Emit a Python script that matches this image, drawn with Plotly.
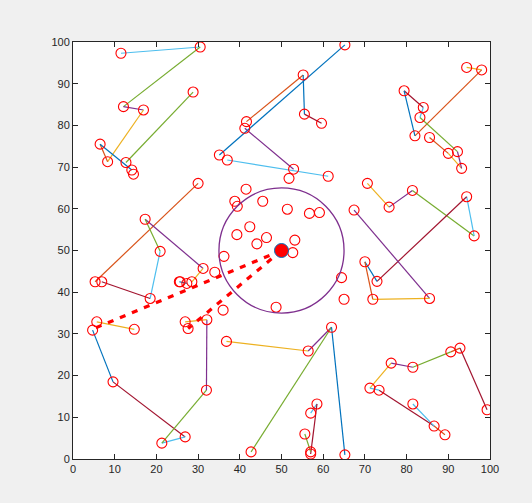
import plotly.graph_objects as go

# Palette (MATLAB default line colour order)
PALETTE = {
    "b": "#0072BD", "o": "#D95319", "y": "#EDB120", "p": "#7E2F8E",
    "g": "#77AC30", "c": "#4DBEEE", "r": "#A2142F",
}

# Route segments: start point, end point, colour key
seg_x0 = [11.5, 30.5, 12.1, 16.9, 6.5, 6.5, 12.7,
          65.2, 55.2, 55.2, 55.5, 41.2, 37.0,
          94.4, 98.0, 79.4, 79.4, 84.0, 83.2, 85.5, 90.0, 92.2,
          70.6, 75.8, 81.4, 94.4, 94.4, 67.4, 70.0, 70.0, 71.9,
          5.3, 17.3, 17.3, 20.9, 18.5, 25.5, 28.5, 5.7, 4.7, 9.6, 26.9, 21.3, 32.1, 26.9,
          36.8, 56.4, 62.0, 62.0, 57.0, 58.5, 55.6,
          76.3, 76.3, 81.5, 90.6, 92.8, 73.4, 81.5, 86.6, 71.2]
seg_y0 = [97.3, 98.8, 84.5, 83.7, 75.5, 75.5, 71.1,
          99.3, 92.1, 92.1, 82.7, 79.3, 71.7,
          93.9, 93.3, 88.3, 88.3, 84.3, 81.9, 77.1, 73.3, 73.7,
          66.1, 60.4, 64.4, 62.9, 62.9, 59.7, 47.3, 47.3, 38.3,
          42.5, 57.5, 57.5, 49.8, 38.5, 42.5, 42.5, 32.9, 30.9, 18.5, 5.3, 3.8, 33.4, 32.9,
          28.2, 25.9, 31.6, 31.6, 11.0, 13.2, 6.0,
          23.0, 23.0, 22.0, 25.7, 26.6, 16.5, 13.2, 7.9, 17.0]
seg_x1 = [30.5, 12.1, 16.9, 8.3, 8.3, 14.1, 28.8,
          35.1, 41.6, 55.5, 59.6, 52.9, 61.2,
          98.0, 82.0, 84.0, 82.0, 83.2, 92.2, 90.0, 93.2, 93.2,
          75.8, 81.4, 96.2, 96.2, 72.9, 85.5, 72.9, 71.9, 85.5,
          30.0, 31.2, 20.9, 18.5, 6.9, 27.3, 31.2, 14.7, 9.6, 26.9, 21.3, 32.0, 32.0, 32.1,
          56.4, 62.0, 42.7, 65.2, 58.5, 57.0, 57.0,
          71.2, 81.5, 90.6, 92.8, 99.3, 86.6, 86.6, 89.2, 73.4]
seg_y1 = [98.8, 84.5, 83.7, 71.3, 71.3, 69.3, 88.0,
          72.9, 80.9, 82.7, 80.5, 69.5, 67.8,
          93.3, 77.5, 84.3, 77.5, 81.9, 73.7, 73.3, 69.7, 69.7,
          60.4, 64.4, 53.5, 53.5, 42.6, 38.5, 42.6, 38.3, 38.5,
          66.1, 45.7, 49.8, 38.5, 42.5, 42.1, 45.7, 31.1, 18.5, 5.3, 3.8, 16.5, 16.5, 33.4,
          25.9, 31.6, 1.7, 1.0, 13.2, 1.2, 1.7,
          17.0, 22.0, 25.7, 26.6, 11.8, 7.9, 7.9, 5.8, 16.5]
seg_color = ["c", "g", "p", "y", "o", "b", "g",
             "b", "o", "b", "r", "p", "c",
             "y", "o", "r", "b", "c", "g", "o", "y", "p",
             "y", "p", "g", "c", "r", "p", "b", "o", "y",
             "o", "p", "g", "c", "r", "b", "y", "y", "b", "r", "c", "g", "p", "y",
             "y", "p", "g", "b", "c", "r", "g",
             "y", "p", "g", "o", "r", "r", "c", "o", "c"]

# Stops not joined by any segment
lone_x = [14.5, 51.8, 41.5, 38.8, 39.4, 45.5, 51.4, 56.7, 59.1, 42.4, 39.3, 46.4,
          44.1, 53.2, 52.7, 36.2, 48.7, 64.4, 65.0, 34.0, 36.0, 27.6, 25.7, 17.3]
lone_y = [68.3, 67.3, 64.7, 61.8, 60.6, 61.8, 59.9, 58.9, 59.1, 55.7, 53.8, 53.1,
          51.6, 52.5, 49.5, 48.6, 36.4, 43.5, 38.3, 44.8, 35.7, 31.3, 42.5, 57.5]

# Depot, service radius and dispatched routes
depot_x, depot_y = 50.0, 50.0
radius = 15.0
dash_to_x = [4.8, 27.6]
dash_to_y = [31.2, 31.3]

fig = go.Figure()

for x0, y0, x1, y1, c in zip(seg_x0, seg_y0, seg_x1, seg_y1, seg_color):
    fig.add_trace(go.Scatter(x=[x0, x1], y=[y0, y1], mode="lines",
                             line=dict(color=PALETTE[c], width=1.2),
                             hoverinfo="skip", showlegend=False))

# all stops as open red circles
pts = {}
for x, y in list(zip(seg_x0, seg_y0)) + list(zip(seg_x1, seg_y1)) + list(zip(lone_x, lone_y)):
    pts[(x, y)] = True
px = [p[0] for p in pts]
py = [p[1] for p in pts]
fig.add_trace(go.Scatter(x=px, y=py, mode="markers",
                         marker=dict(symbol="circle-open", size=10, color="#FF0000",
                                     line=dict(width=1.1)),
                         showlegend=False))

# service radius around the depot
fig.add_shape(type="circle", xref="x", yref="y",
              x0=depot_x - radius, x1=depot_x + radius,
              y0=depot_y - radius, y1=depot_y + radius,
              line=dict(color="#7E2F8E", width=1.3))

for tx, ty in zip(dash_to_x, dash_to_y):
    fig.add_trace(go.Scatter(x=[depot_x, tx], y=[depot_y, ty], mode="lines",
                             line=dict(color="#FF0000", width=3.2, dash="6px,7px"),
                             showlegend=False))

fig.add_trace(go.Scatter(x=[depot_x], y=[depot_y], mode="markers",
                         marker=dict(symbol="circle", size=14, color="#FF0000",
                                     line=dict(color="#0072BD", width=1)),
                         showlegend=False))

axis_common = dict(range=[0, 100], dtick=10, tick0=0, showgrid=False, zeroline=False,
                   showline=True, linecolor="#262626", linewidth=1, mirror="allticks",
                   ticks="inside", ticklen=5, tickcolor="#262626",
                   tickfont=dict(family="Liberation Sans, Arial", size=11, color="#262626"))

fig.update_layout(
    width=532, height=503,
    margin=dict(l=73, r=42, t=42, b=44),
    paper_bgcolor="#F0F0F0", plot_bgcolor="#FFFFFF",
    xaxis=dict(**axis_common),
    yaxis=dict(**axis_common),
    showlegend=False,
)

fig.write_html("out.html")
